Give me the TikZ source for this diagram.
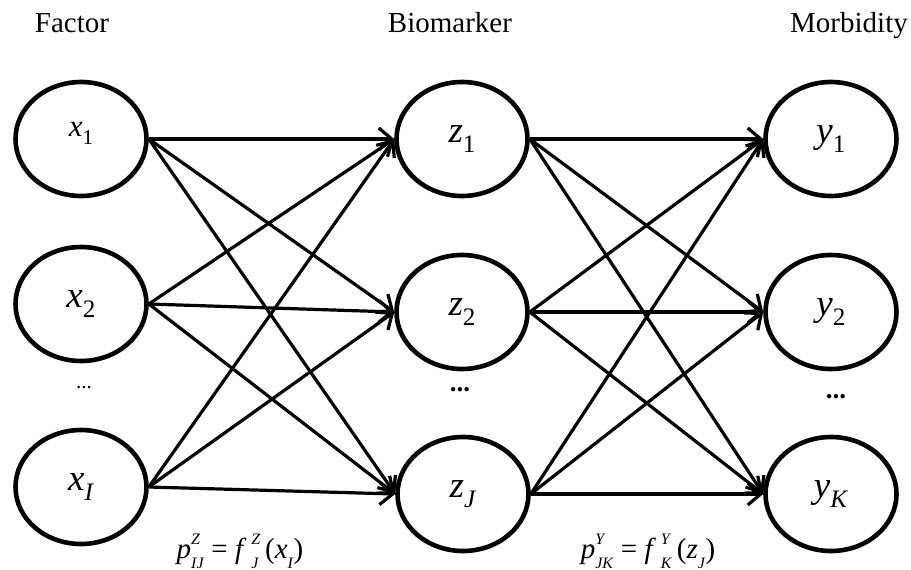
\documentclass[tikz,border=0pt]{standalone}
\usepackage{fontspec}
\setmainfont{Liberation Serif}
\usepackage{graphicx}
\usetikzlibrary{shapes.geometric,arrows.meta}
\newcommand{\VS}[2]{\textit{#1}\raisebox{-0.28em}{\scalebox{0.68}{#2}}}
\newcommand{\SupSub}[2]{%
  \setbox0=\hbox{\scalebox{0.55}{#1}}\setbox2=\hbox{\scalebox{0.55}{#2}}%
  \ifdim\wd0>\wd2 \dimen0=\wd0 \else \dimen0=\wd2 \fi
  \hbox to\dimen0{\rlap{\raisebox{0.5em}{\box0}}\raisebox{-0.32em}{\box2}\hss}}
\begin{document}
\begin{tikzpicture}[x=1pt,y=-1pt,
  unit/.style={ellipse,draw,line width=4.6pt,minimum width=131pt,minimum height=114pt,inner sep=0pt},
  conn/.style={line width=3.2pt,-{Straight Barb[length=13pt,width=22pt,line width=3.2pt]}},
  head/.style={font=\fontsize{29}{29}\selectfont,anchor=base},
  var/.style={font=\fontsize{37}{37}\selectfont},
  frm/.style={font=\fontsize{29}{29}\selectfont},
  dotsb/.style={font=\fontsize{27}{27}\selectfont\bfseries}]
\useasboundingbox (0,0) rectangle (911,570);
% headings
\node[head] (hf) at (72,32) {Factor};
\node[head] (hb) at (450,32) {Biomarker};
\node[head] (hm) at (849,32) {Morbidity};
% factor column
\node[unit,font=\fontsize{31}{31}\selectfont] (x1) at (81,139) {\raisebox{20pt}{\VS{x}{1}}};
\node[unit,var] (x2) at (81,304) {\VS{x}{2}};
\node[unit,var] (xI) at (81,487) {\VS{x}{\textit{I}}};
\node[font=\fontsize{21}{21}\selectfont] (xd) at (84,388) {...};
% biomarker column
\node[unit,var] (z1) at (462,139) {\VS{z}{1}};
\node[unit,var] (z2) at (462,312) {\VS{z}{2}};
\node[unit,var] (zJ) at (463,494) {\VS{z}{\textit{J}}};
\node[dotsb] (zd) at (460,390) {...};
% morbidity column
\node[unit,var] (y1) at (831,139) {\VS{y}{1}};
\node[unit,var] (y2) at (831,312) {\VS{y}{2}};
\node[unit,var] (yK) at (831,494) {\VS{y}{\textit{K}}};
\node[dotsb] (yd) at (836,397) {...};
% connectors
\foreach \a in {x1,x2,xI}
  \foreach \b in {z1,z2,zJ}
    \draw[conn] (\a.east) -- (\b.west);
\foreach \a in {z1,z2,zJ}
  \foreach \b in {y1,y2,yK}
    \draw[conn] (\a.east) -- (\b.west);
% formulas
\node[frm] (fz) at (240,551) {\textit{p}\SupSub{\textit{Z}}{\textit{IJ}} = \textit{f}\,\SupSub{\textit{Z}}{\textit{J}}\,(\textit{x}\SupSub{}{\textit{I}})};
\node[frm] (fy) at (648,551) {\textit{p}\SupSub{\textit{Y}}{\textit{JK}} = \textit{f}\,\SupSub{\textit{Y}}{\textit{K}}\,(\textit{z}\SupSub{}{\textit{J}})};
\end{tikzpicture}
\end{document}
